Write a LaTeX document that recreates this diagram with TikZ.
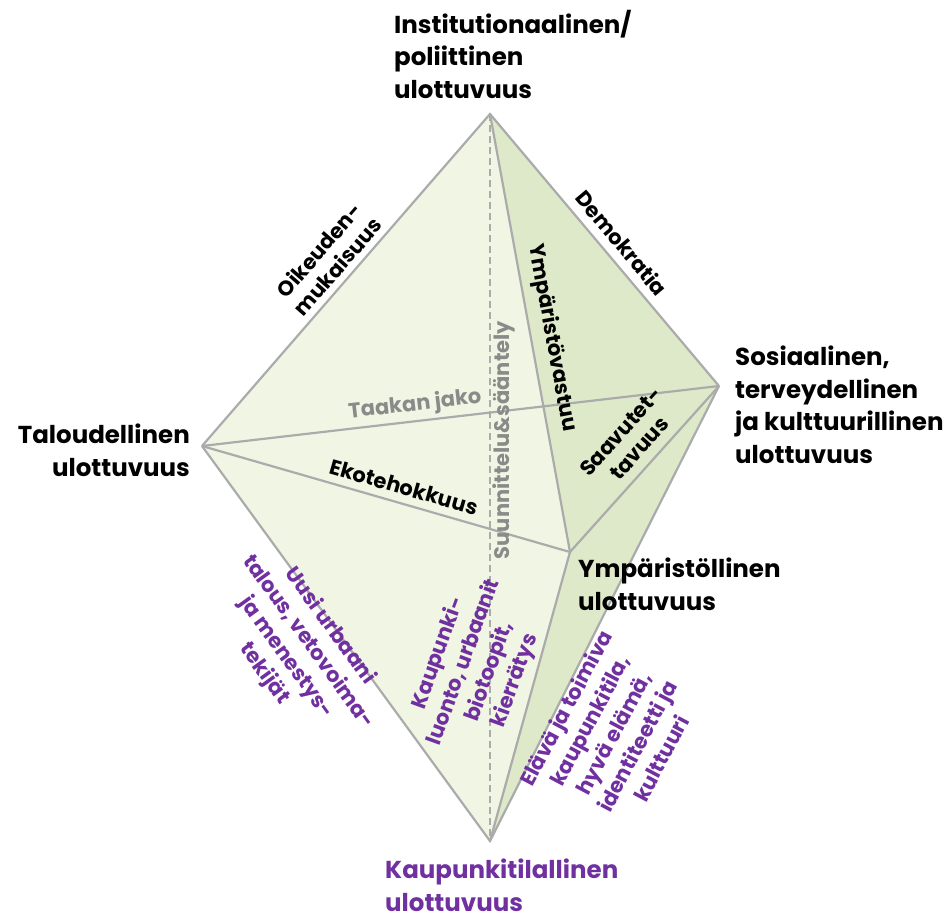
\documentclass[tikz,border=0pt]{standalone}
\usepackage{fontspec}
\setmainfont{Poppins}
\definecolor{edgegray}{HTML}{ABABAB}
\definecolor{lightg}{HTML}{F0F6E3}
\definecolor{darkg}{HTML}{DDE9C9}
\definecolor{purp}{HTML}{7030A0}
\definecolor{lblgray}{HTML}{8A8A8A}
\begin{document}
\begin{tikzpicture}[x=1pt,y=-1pt,
  edge/.style={draw=edgegray,line width=2.2pt},
  dim/.style={font=\fontsize{24.5}{32.5}\selectfont\bfseries,align=left,inner sep=0pt},
  elabel/.style={font=\fontsize{21}{25}\selectfont\bfseries,align=center,inner sep=0pt},
  plabel/.style={font=\fontsize{21}{27}\selectfont\bfseries,align=center,inner sep=0pt,text=purp}]
\useasboundingbox (0,0) rectangle (946,919);
\coordinate (T) at (490,114);
\coordinate (L) at (202,446);
\coordinate (R) at (719,386);
\coordinate (M) at (570,552);
\coordinate (B) at (490,841);
\fill[lightg] (T)--(L)--(M)--cycle;
\fill[darkg] (T)--(M)--(R)--cycle;
\fill[lightg] (L)--(M)--(B)--cycle;
\fill[darkg] (M)--(R)--(B)--cycle;
\draw[edgegray,line width=1.8pt,dash pattern=on 7pt off 4pt] (T)--(B);
\draw[edge] (L)--(T)--(R);
\draw[edge] (T)--(M);
\draw[edge] (L)--(R);
\draw[edge] (L)--(M)--(R);
\draw[edge] (L)--(B)--(R);
\draw[edge] (M)--(B);
% dimension labels
\node[dim,anchor=north west] (inst) at (394,10) {Institutionaalinen/\\poliittinen\\ulottuvuus};
\node[dim,anchor=north east,align=right] (tal) at (190,424) {Taloudellinen\\ulottuvuus};
\node[dim,anchor=north west] (sos) at (735,346) {Sosiaalinen,\\terveydellinen\\ja kulttuurillinen\\ulottuvuus};
\node[dim,anchor=north west] (ymp) at (578,558) {Ympäristöllinen\\ulottuvuus};
\node[dim,anchor=north west,text=purp] (kau) at (385,859) {Kaupunkitilallinen\\ulottuvuus};
% edge labels
\node[elabel,rotate=49] (oik) at (328,258) {Oikeuden-\\mukaisuus};
\node[elabel,rotate=-50] (dem) at (622,243) {Demokratia};
\node[elabel,rotate=-79.6] (ympv) at (552,338) {Ympäristövastuu};
\node[elabel,rotate=6.6,text=lblgray] (taa) at (415,405) {Taakan jako};
\node[elabel,rotate=-16] (eko) at (404,487) {Ekotehokkuus};
\node[elabel,rotate=90,text=lblgray] (suu) at (504,440) {Suunnittelu\&sääntely};
\node[elabel,rotate=48] (saa) at (630,440) {Saavutet-\\tavuus};
\node[plabel,rotate=-54] (uusi) at (297,650) {Uusi urbaani\\talous, vetovoima-\\ja menestys-\\tekijät};
\node[plabel,rotate=70] (kluo) at (477,667) {Kaupunki-\\luonto, urbaanit\\biotoopit,\\kierrätys};
\node[plabel,rotate=62] (ela) at (613,733) {Elävä ja toimiva\\kaupunkitila,\\hyvä elämä,\\identiteetti ja\\kulttuuri};
\end{tikzpicture}
\end{document}
